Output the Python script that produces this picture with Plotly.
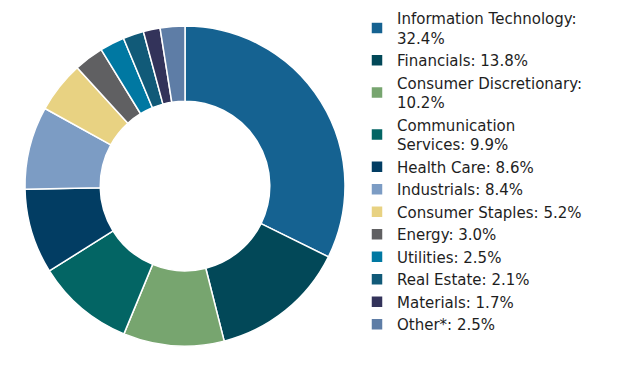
import plotly.graph_objects as go

sectors = ["Information Technology", "Financials", "Consumer Discretionary",
           "Communication Services", "Health Care", "Industrials",
           "Consumer Staples", "Energy", "Utilities", "Real Estate",
           "Materials", "Other*"]
weights = [32.4, 13.8, 10.2, 9.9, 8.6, 8.4, 5.2, 3.0, 2.5, 2.1, 1.7, 2.5]
legend_labels = ["Information Technology:<br>32.4%", "Financials: 13.8%",
                 "Consumer Discretionary:<br>10.2%", "Communication<br>Services: 9.9%",
                 "Health Care: 8.6%", "Industrials: 8.4%", "Consumer Staples: 5.2%",
                 "Energy: 3.0%", "Utilities: 2.5%", "Real Estate: 2.1%",
                 "Materials: 1.7%", "Other*: 2.5%"]
colors = ["#156291", "#024858", "#77A56F", "#036564", "#023D63", "#7C9CC4",
          "#E8D282", "#606062", "#0078A2", "#115A78", "#33335A", "#5E7DA6"]

W, H = 627, 371
OFF = 8  # page body margin offset
fig = go.Figure(go.Pie(
    labels=legend_labels, values=weights, hole=0.53, sort=False,
    direction="clockwise", rotation=0,
    marker=dict(colors=colors, line=dict(color="white", width=1.5)),
    textinfo="none", customdata=sectors,
    hovertemplate="%{customdata}: %{value}%<extra></extra>",
    domain=dict(x=[(25 - OFF) / W, (345 - OFF) / W],
                y=[1 - (346 - OFF) / H, 1 - (26 - OFF) / H]),
))
fig.update_layout(
    width=W, height=H, margin=dict(l=0, r=0, t=0, b=0, autoexpand=False),
    paper_bgcolor="white", plot_bgcolor="white",
    font=dict(family="DejaVu Sans, sans-serif", size=15, color="#1e1e1e"),
    legend=dict(x=349 / W, xanchor="left", y=1.016, yanchor="top",
                maxheight=420, font=dict(size=15), tracegroupgap=0,
                itemclick=False),
    showlegend=True,
)
fig.write_html("out.html")
